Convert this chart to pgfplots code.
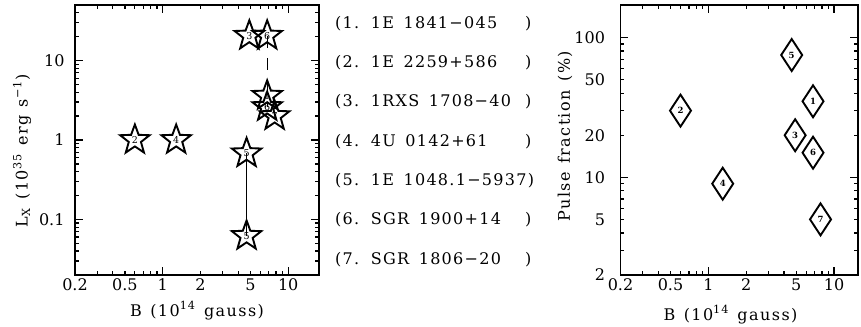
\documentclass[border=0pt]{standalone}
\usepackage{fontspec}
\setmainfont{DejaVu Serif}
\newfontfamily\listfont[LetterSpace=8,WordSpace=1.5]{DejaVu Serif}
\newfontfamily\labfont[LetterSpace=9,WordSpace=1.3]{DejaVu Serif}
\usepackage{pgfplots}
\pgfplotsset{compat=1.18}

\pgfdeclareplotmark{pstar}{%
  \pgfpathmoveto{\pgfpointpolar{90}{15.5bp}}%
  \pgfpathlineto{\pgfpointpolar{126}{6.4bp}}%
  \pgfpathlineto{\pgfpointpolar{162}{15.5bp}}%
  \pgfpathlineto{\pgfpointpolar{198}{6.4bp}}%
  \pgfpathlineto{\pgfpointpolar{234}{15.5bp}}%
  \pgfpathlineto{\pgfpointpolar{270}{6.4bp}}%
  \pgfpathlineto{\pgfpointpolar{306}{15.5bp}}%
  \pgfpathlineto{\pgfpointpolar{342}{6.4bp}}%
  \pgfpathlineto{\pgfpointpolar{18}{15.5bp}}%
  \pgfpathlineto{\pgfpointpolar{54}{6.4bp}}%
  \pgfpathclose
  \pgfusepathqstroke}
\pgfdeclareplotmark{pdiam}{%
  \pgfpathmoveto{\pgfpoint{0bp}{16bp}}%
  \pgfpathlineto{\pgfpoint{10.5bp}{0bp}}%
  \pgfpathlineto{\pgfpoint{0bp}{-16bp}}%
  \pgfpathlineto{\pgfpoint{-10.5bp}{0bp}}%
  \pgfpathclose
  \pgfusepathqstroke}

\pgfplotstableread{
B L n
6.8 3.6 1
0.6 1.0 2
4.9 20.5 3
1.28 1.0 4
4.66 0.68 5
4.66 0.062 5
6.8 20.5 6
6.8 2.6 6
7.8 2.0 7
}\lxdata
\pgfplotstableread{
B P n
6.8 35 1
0.6 30 2
4.9 20 3
1.3 9 4
4.6 75 5
6.8 15 6
7.8 5 7
}\pfdata

\begin{document}
\begin{tikzpicture}[x=1bp,y=1bp]
\useasboundingbox (0,0) rectangle (861,326);

\begin{axis}[at={(75bp,51bp)}, anchor=south west,
  scale only axis, xmode=log, ymode=log,
  axis line style={line width=1.6bp},
  tick align=inside, major tick length=8bp, minor tick length=4bp,
  tick style={line width=1.2bp, black},
  tick label style={font=\fontsize{16bp}{18bp}\selectfont},
  label style={font=\labfont\fontsize{16bp}{18bp}\selectfont},
  xmin=0.2,
  xtick={1,10}, xticklabels={1,10},
  extra x ticks={0.2,0.5,2,5}, extra x tick labels={0.2,0.5,2,5},
  extra x tick style={major tick length=0pt},
  minor xtick={0.3,0.4,0.5,0.6,0.7,0.8,0.9,2,3,4,5,6,7,8,9},
  clip=false,
  width=244bp, height=270bp, xmax=17.6, ymin=0.02, ymax=50,
  ytick={0.1,1,10}, yticklabels={0.1,1,10},
  minor ytick={0.03,0.04,0.05,0.06,0.07,0.08,0.09,0.2,0.3,0.4,0.5,0.6,0.7,0.8,0.9,2,3,4,5,6,7,8,9,20,30,40,50},
  yticklabel style={xshift=-7bp},
  xlabel={B (10\textsuperscript{14} gauss)},
  ylabel={L\textsubscript{X} (10\textsuperscript{35} erg s\textsuperscript{−1})},
  xlabel style={at={(axis description cs:0.5,-0.152)}, anchor=base},
  ylabel style={at={(axis description cs:-0.217,0.46)}, anchor=center},
]
\addplot[black, line width=0.9bp] coordinates {(4.66,0.68) (4.66,0.062)};
\addplot[black, line width=1.2bp, dash pattern=on 12bp off 10bp] coordinates {(6.8,20.5) (6.8,2.6)};
\addplot[only marks, mark=pstar, mark options={black, line width=1.9bp},
  nodes near coords, point meta=explicit symbolic,
  nodes near coords style={anchor=center, font=\fontsize{9.5bp}{9.5bp}\selectfont}]
  table[x=B, y=L, meta=n] {\lxdata};
\end{axis}

\begin{axis}[at={(620.5bp,51bp)}, anchor=south west,
  scale only axis, xmode=log, ymode=log,
  axis line style={line width=1.6bp},
  tick align=inside, major tick length=8bp, minor tick length=4bp,
  tick style={line width=1.2bp, black},
  tick label style={font=\fontsize{16bp}{18bp}\selectfont},
  label style={font=\labfont\fontsize{16bp}{18bp}\selectfont},
  xmin=0.2,
  xtick={1,10}, xticklabels={1,10},
  extra x ticks={0.2,0.5,2,5}, extra x tick labels={0.2,0.5,2,5},
  extra x tick style={major tick length=0pt},
  minor xtick={0.3,0.4,0.5,0.6,0.7,0.8,0.9,2,3,4,5,6,7,8,9},
  clip=false,
  width=237.5bp, height=270bp, xmax=15.5, ymin=2, ymax=171,
  ytick={10,100}, yticklabels={10,100},
  extra y ticks={2,5,20,50}, extra y tick labels={2,5,20,50},
  extra y tick style={major tick length=0pt},
  minor ytick={3,4,5,6,7,8,9,20,30,40,50,60,70,80,90},
  yticklabel style={xshift=-12bp},
  xlabel={B (10\textsuperscript{14} gauss)},
  ylabel={Pulse fraction (\%)},
  xlabel style={at={(axis description cs:0.463,-0.167)}, anchor=base},
  ylabel style={at={(axis description cs:-0.234,0.513)}, anchor=center},
]
\addplot[only marks, mark=pdiam, mark options={black, line width=1.9bp},
  nodes near coords, point meta=explicit symbolic,
  nodes near coords style={anchor=center, font=\bfseries\fontsize{8.5bp}{8.5bp}\selectfont}]
  table[x=B, y=P, meta=n] {\pfdata};
\end{axis}

\begin{scope}[every node/.style={anchor=base west, inner sep=0pt, font=\listfont\fontsize{16bp}{18bp}\selectfont}]
\node at (335,297.7) {(1. 1E 1841−045};
\node at (335,258.4) {(2. 1E 2259+586};
\node at (335,219.1) {(3. 1RXS 1708−40};
\node at (335,179.8) {(4. 4U 0142+61};
\node at (335,140.5) {(5. 1E 1048.1−5937)};
\node at (335,101.2) {(6. SGR 1900+14};
\node at (335,61.9) {(7. SGR 1806−20};
\node at (525,297.7) {)};
\node at (525,258.4) {)};
\node at (525,219.1) {)};
\node at (525,179.8) {)};
\node at (525,101.2) {)};
\node at (525,61.9) {)};
\end{scope}
\end{tikzpicture}
\end{document}
